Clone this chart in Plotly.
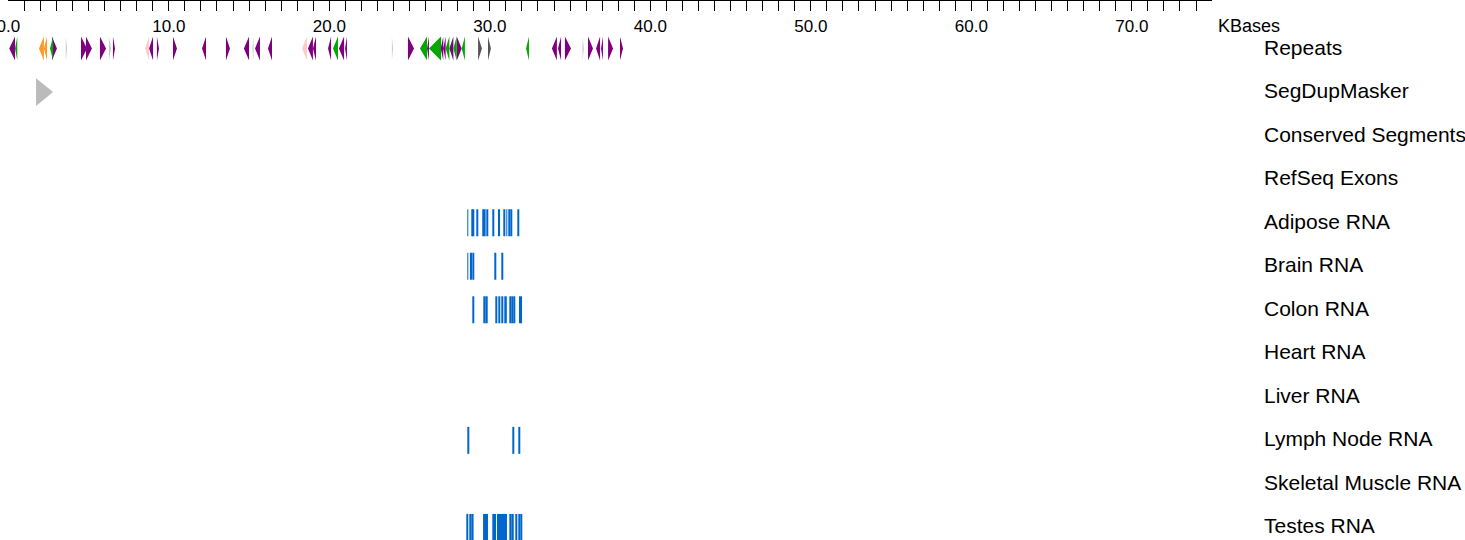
import plotly.graph_objects as go

# ---------------- data ----------------
tracks = ["Repeats", "SegDupMasker", "Conserved Segments", "RefSeq Exons",
          "Adipose RNA", "Brain RNA", "Colon RNA", "Heart RNA", "Liver RNA",
          "Lymph Node RNA", "Skeletal Muscle RNA", "Testes RNA"]

axis_max_kb = 75
major_ticks = [0, 10, 20, 30, 40, 50, 60, 70]
minor_ticks = list(range(0, 76))

# repeats (kb)
rep_start = [0.06, 0.42, 1.91, 2.22, 2.60, 2.72, 3.58, 4.53, 4.84, 5.71, 6.27, 6.52,
             8.52, 8.77, 9.26, 10.26, 12.07, 13.56, 14.68, 15.20, 15.37, 16.18,
             18.30, 18.67, 18.98, 19.92, 20.23, 20.60, 20.98, 23.90, 24.90,
             25.65, 26.09, 26.21, 26.94, 27.10, 27.25, 27.48, 27.73, 27.94, 28.25,
             29.27, 29.89, 32.26, 33.87, 34.25, 34.68, 35.78, 36.12, 36.62, 36.93,
             37.37, 38.11]
rep_end = [0.42, 0.56, 2.22, 2.41, 2.79, 3.03, 3.66, 4.90, 5.21, 6.09, 6.40, 6.65,
           8.77, 9.02, 9.39, 10.51, 12.32, 13.81, 15.00, 15.28, 15.68, 16.43,
           18.61, 18.98, 19.17, 20.11, 20.54, 20.92, 21.10, 23.97, 25.28,
           26.09, 26.21, 26.96, 27.10, 27.25, 27.48, 27.73, 27.94, 28.25, 28.45,
           29.51, 30.07, 32.44, 34.18, 34.44, 35.06, 35.86, 36.43, 36.87, 37.05,
           37.68, 38.30]
rep_strand = ["-", "-", "-", "-", "-", "+", "+", "+", "+", "+", "+", "+",
              "-", "-", "+", "+", "-", "+", "-", "-", "-", "-",
              "-", "-", "-", "-", "-", "-", "-", "+", "+",
              "-", "-", "-", "-", "-", "-", "-", "-", "+", "-",
              "+", "+", "-", "-", "-", "+", "+", "+", "-", "-",
              "+", "+"]
rep_class = ["P", "G", "O", "O", "G", "P", "L", "P", "P", "P", "L", "P",
             "K", "P", "P", "P", "P", "P", "P", "L", "P", "P",
             "K", "P", "P", "P", "G", "P", "P", "L", "P",
             "G", "P", "G", "P", "P", "G", "P", "G", "P", "G",
             "D", "D", "G", "P", "P", "P", "L", "P", "P", "P",
             "P", "P"]
class_colors = {"P": "#7f007f", "G": "#00a800", "O": "#ff9a2a", "K": "#ffcccc",
                "L": "#c8c8c8", "D": "#555555"}

# segmental duplication
segdup_start = [1.73]
segdup_end = [2.79]
segdup_strand = ["+"]

# RNA evidence blocks (kb)
rna = {
    "Adipose RNA": ([28.60, 28.85, 28.97, 29.22, 29.53, 29.80, 30.16, 30.51, 30.90, 31.03, 31.19, 31.33, 31.77],
                    [28.66, 28.91, 29.03, 29.28, 29.74, 29.87, 30.22, 30.64, 30.96, 31.09, 31.25, 31.39, 31.83]),
    "Brain RNA": ([28.60, 28.76, 28.97, 30.34, 30.72],
                  [28.66, 28.89, 29.03, 30.40, 30.78]),
    "Colon RNA": ([28.97, 29.60, 29.76, 30.39, 30.53, 30.77, 30.95, 31.27, 31.38, 31.50, 31.82],
                  [29.03, 29.66, 29.87, 30.46, 30.64, 30.83, 31.06, 31.33, 31.44, 31.56, 32.01]),
    "Lymph Node RNA": ([28.65, 31.45, 31.83],
                       [28.71, 31.51, 31.89]),
    "Testes RNA": ([28.58, 28.75, 28.89, 29.58, 30.16, 30.28, 30.45, 31.26, 31.40, 31.63, 31.82, 31.94],
                   [28.64, 28.81, 28.99, 29.89, 30.22, 30.39, 31.07, 31.32, 31.49, 31.71, 31.88, 32.01]),
}
rna_color = "#0066cc"

# ---------------- figure ----------------
W, H = 1465, 540
fig = go.Figure()


def tri_path(starts, ends, strands, yc, half):
    xs, ys = [], []
    for s, e, st in zip(starts, ends, strands):
        if st == "+":
            xs += [s, e, s, s, None]
        else:
            xs += [e, s, e, e, None]
        ys += [yc - half, yc, yc + half, yc - half, None]
    return xs, ys


# repeats, one trace per class
for cls, col in class_colors.items():
    idx = [i for i, c in enumerate(rep_class) if c == cls]
    xs, ys = tri_path([rep_start[i] for i in idx], [rep_end[i] for i in idx],
                      [rep_strand[i] for i in idx], 0, 0.275)
    fig.add_trace(go.Scatter(x=xs, y=ys, mode="lines", fill="toself", fillcolor=col,
                             line=dict(width=0, color=col), hoverinfo="skip",
                             showlegend=False))

# segdup
xs, ys = tri_path(segdup_start, segdup_end, segdup_strand, 1, 0.32)
fig.add_trace(go.Scatter(x=xs, y=ys, mode="lines", fill="toself", fillcolor="#bbbbbb",
                         line=dict(width=0, color="#bbbbbb"), hoverinfo="skip",
                         showlegend=False))

# RNA blocks
for name, (st, en) in rna.items():
    ti = tracks.index(name)
    fig.add_trace(go.Bar(orientation="h", y=[ti] * len(st), base=st,
                         x=[e - s for s, e in zip(st, en)], width=0.62,
                         marker=dict(color=rna_color, line=dict(width=0)),
                         showlegend=False, hoverinfo="skip"))

# track labels
for i, name in enumerate(tracks):
    fig.add_annotation(x=1262 / W, xref="paper", y=i, yref="y", text=name,
                       showarrow=False, xanchor="left", yanchor="middle", yshift=1.5,
                       font=dict(size=21, color="black"))

fig.add_annotation(x=1216 / W, xref="paper", y=1 - 25 / 539, yref="paper", text="KBases",
                   showarrow=False, xanchor="left", yanchor="middle",
                   font=dict(size=18, color="black"))

x0_px, x1_px = 8.3, 8.3 + 16.05 * axis_max_kb
fig.update_layout(
    width=W, height=H,
    margin=dict(l=0, r=0, t=1, b=0, autoexpand=False),
    paper_bgcolor="white", plot_bgcolor="white",
    font=dict(family="Liberation Sans, Arial, sans-serif", color="black"),
    barmode="overlay",
    xaxis=dict(domain=[x0_px / W, x1_px / W], range=[0, axis_max_kb], side="top",
               automargin=False,
               showline=True, linecolor="black", linewidth=1, mirror=False,
               showgrid=False, zeroline=False,
               ticks="inside", ticklen=10, tickwidth=1, tickcolor="black",
               tickvals=major_ticks, ticktext=[f"{v:.1f}" for v in major_ticks],
               ticklabelposition="inside", ticklabeloverflow="allow",
               ticklabelstandoff=10,
               tickfont=dict(size=17, color="black"),
               minor=dict(tickvals=minor_ticks, ticks="inside", ticklen=10,
                          tickwidth=1, tickcolor="black", showgrid=False)),
    yaxis=dict(range=[(540 - 1 - 48.5) / 43.45, (1 - 48.5) / 43.45], visible=False,
               automargin=False, showgrid=False, zeroline=False),
)

fig.write_html("out.html", config={"displayModeBar": False},
               post_script="document.body.style.margin='0px';"
                           "document.body.style.padding='0px';")
